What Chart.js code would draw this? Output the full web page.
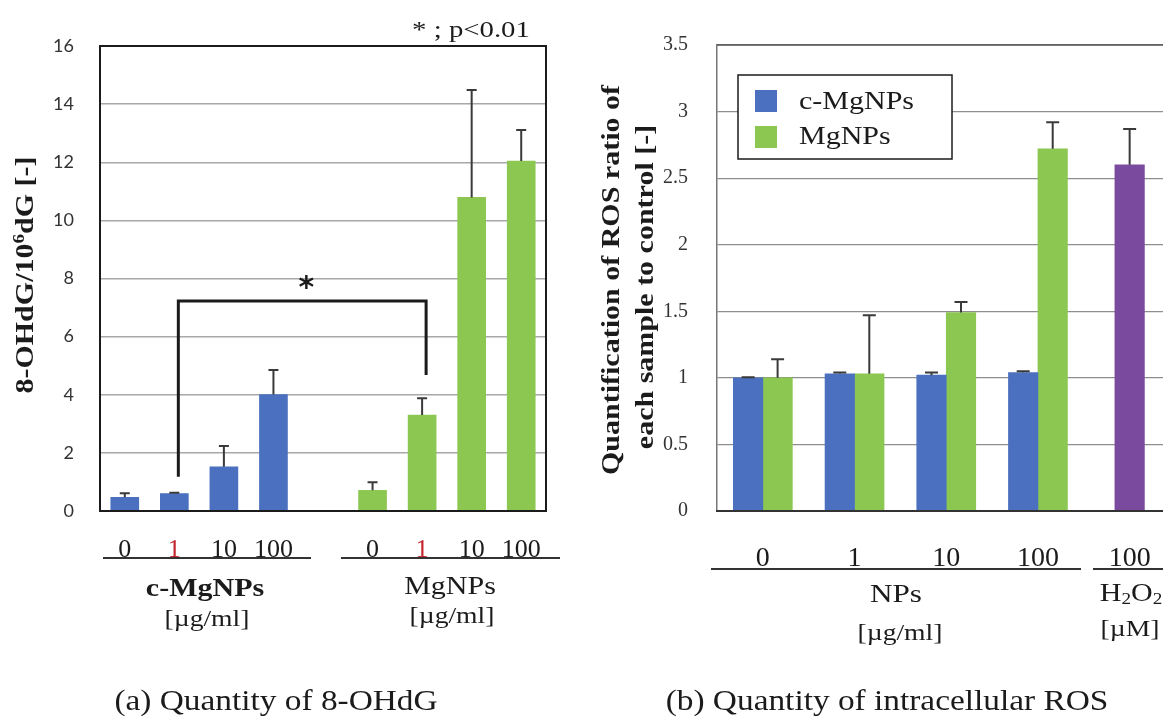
<!DOCTYPE html>
<html>
<head>
<meta charset="utf-8">
<title>8-OHdG and intracellular ROS</title>
<script src="https://cdn.jsdelivr.net/npm/chart.js@4.4.1/dist/chart.umd.min.js"></script>
<style>
  html, body { margin: 0; padding: 0; background: #fff; overflow: hidden; width: 1163px; height: 719px; }
  canvas { position: absolute; top: 0; }
  #ohdg { left: 0; }
  #ros { left: 580px; }
</style>
</head>
<body>
<canvas id="ohdg" width="580" height="719"></canvas>
<canvas id="ros" width="620" height="719"></canvas>
<script>
// (a) 8-OHdG: one slot per dose, an empty slot between the two particle types
const ohdgDoses = ['0', '1', '10', '100', '', '0', '1', '10', '100'];
const ohdgCMg   = [0.47, 0.60, 1.52, 4.01, null, null, null, null, null];
const ohdgCMgSd = [0.14, 0.03, 0.72, 0.84, null, null, null, null, null];
const ohdgMg    = [null, null, null, null, null, 0.71, 3.30, 10.79, 12.04];
const ohdgMgSd  = [null, null, null, null, null, 0.28, 0.58, 3.70, 1.07];
const ohdgTicks = [0, 16, 2];

// significance bracket: between dose slots 1 and 6, leg heights in 8-OHdG units
const sigPair = [1, 6];
const sigLegs = [1.18, 7.23, 4.68];

// (b) ROS ratio to control
const rosDoses  = ['0', '1', '10', '100', '100'];
const rosCMg    = [1.00, 1.03, 1.02, 1.04, null];
const rosCMgSd  = [0.005, 0.01, 0.02, 0.01, null];
const rosMg     = [1.00, 1.03, 1.49, 2.72, null];
const rosMgSd   = [0.14, 0.44, 0.08, 0.20, null];
const rosH2O2   = [null, null, null, null, 2.60];
const rosH2O2Sd = [null, null, null, null, 0.27];
const rosTicks  = [0, 3.5, 0.5];

const BLUE = '#4a70bf';
const GREEN = '#8cc751';
const PURPLE = '#7a4a9e';
const INK = '#1b1b1b';

Chart.defaults.font.family = '"Liberation Serif", serif';
Chart.defaults.color = INK;

// serif text, slightly widened, with optional sub/superscript runs
function drawText(ctx, parts, x, y, size, o = {}) {
  if (typeof parts === 'string') parts = [[parts, '']];
  const sx = o.sx ?? 1.2;
  const weight = o.bold ? 'bold ' : '';
  const fontFor = k => weight + (k ? Math.round(size * 0.62) : size) + 'px "Liberation Serif"';
  ctx.save();
  ctx.translate(x, y);
  if (o.rot) ctx.rotate(o.rot);
  ctx.scale(sx, 1);
  ctx.fillStyle = o.color || INK;
  ctx.textBaseline = 'middle';
  ctx.textAlign = 'left';
  let total = 0;
  const widths = parts.map(([s, k]) => {
    ctx.font = fontFor(k);
    const w = ctx.measureText(s).width;
    total += w;
    return w;
  });
  let cx = o.align === 'left' ? 0 : -total / 2;
  parts.forEach(([s, k], i) => {
    ctx.font = fontFor(k);
    const dy = k === 'sup' ? -size * 0.3 : k === 'sub' ? size * 0.25 : 0;
    ctx.fillText(s, cx, dy);
    cx += widths[i];
  });
  ctx.restore();
}

function hline(ctx, x1, x2, y, color, width) {
  ctx.save();
  ctx.strokeStyle = color;
  ctx.lineWidth = width;
  ctx.beginPath();
  ctx.moveTo(x1, y);
  ctx.lineTo(x2, y);
  ctx.stroke();
  ctx.restore();
}

// upper-only error bars, read from each dataset's sd array
const errorBars = {
  id: 'errorBars',
  afterDatasetsDraw(chart, args, opts) {
    const { ctx } = chart;
    const yScale = chart.scales.y;
    ctx.save();
    ctx.strokeStyle = opts.color;
    ctx.lineWidth = opts.width;
    chart.data.datasets.forEach((ds, i) => {
      const meta = chart.getDatasetMeta(i);
      ds.data.forEach((v, j) => {
        if (v == null || ds.sd[j] == null) return;
        const bar = meta.data[j];
        const top = yScale.getPixelForValue(v + ds.sd[j]);
        ctx.beginPath();
        ctx.moveTo(bar.x, bar.y);
        ctx.lineTo(bar.x, top);
        ctx.moveTo(bar.x - opts.cap / 2, top);
        ctx.lineTo(bar.x + opts.cap / 2, top);
        ctx.stroke();
      });
    });
    ctx.restore();
  }
};

const ohdgDecor = {
  id: 'ohdgDecor',
  afterDatasetsDraw(chart) {
    const { ctx, chartArea: a } = chart;
    const x = chart.scales.x, y = chart.scales.y;
    ctx.save();
    ctx.strokeStyle = INK;
    ctx.lineWidth = 2;
    ctx.strokeRect(a.left, a.top, a.right - a.left, a.bottom - a.top);

    // bracket between 1 µg/ml of both particle types
    const x1 = x.getPixelForValue(sigPair[0]) + 4;
    const x2 = x.getPixelForValue(sigPair[1]) + 4;
    ctx.lineWidth = 3;
    ctx.beginPath();
    ctx.moveTo(x1, y.getPixelForValue(sigLegs[0]));
    ctx.lineTo(x1, y.getPixelForValue(sigLegs[1]));
    ctx.lineTo(x2, y.getPixelForValue(sigLegs[1]));
    ctx.lineTo(x2, y.getPixelForValue(sigLegs[2]));
    ctx.stroke();
    ctx.font = 'bold 30px "DejaVu Sans"';
    ctx.fillStyle = INK;
    ctx.textAlign = 'center';
    ctx.textBaseline = 'middle';
    ctx.fillText('*', (x1 + x2) / 2 + 4, y.getPixelForValue(sigLegs[1]) - 12);
    ctx.restore();
  },
  afterDraw(chart) {
    const { ctx } = chart;
    drawText(ctx, '* ; p<0.01', 471, 31, 24);
    drawText(ctx, [['8-OHdG/10', ''], ['6', 'sup'], ['dG [-]', '']], 27, 275, 25, { bold: true, rot: -Math.PI / 2 });
    hline(ctx, 103, 311, 558, '#333', 2);
    hline(ctx, 341, 560, 558, '#333', 2);
    drawText(ctx, 'c-MgNPs', 205, 590, 25, { bold: true });
    drawText(ctx, '[\u00b5g/ml]', 207, 620, 23);
    drawText(ctx, 'MgNPs', 450, 587, 25);
    drawText(ctx, '[\u00b5g/ml]', 452, 617, 23);
    drawText(ctx, '(a) Quantity of 8-OHdG', 276, 702, 29, { sx: 1.15 });
  }
};

const rosDecor = {
  id: 'rosDecor',
  afterDatasetsDraw(chart) {
    const { ctx, chartArea: a } = chart;
    hline(ctx, a.left, a.right, a.top, '#555', 1.5);
    hline(ctx, a.left - 1, a.right, a.bottom, '#333', 2);

    // legend box
    ctx.save();
    ctx.fillStyle = '#fff';
    ctx.fillRect(158, 75, 214, 84);
    ctx.strokeStyle = INK;
    ctx.lineWidth = 1.5;
    ctx.strokeRect(158, 75, 214, 84);
    chart.data.datasets.slice(0, 2).forEach((ds, i) => {
      ctx.fillStyle = ds.backgroundColor;
      ctx.fillRect(175, 90 + i * 36, 22, 22);
      drawText(ctx, ds.label, 219, 102 + i * 35, 25, { align: 'left' });
    });
    ctx.restore();
  },
  afterDraw(chart) {
    const { ctx } = chart;
    drawText(ctx, 'Quantification of ROS ratio of', 33, 280, 25, { bold: true, rot: -Math.PI / 2 });
    drawText(ctx, 'each sample to control [-]', 67, 287, 25, { bold: true, rot: -Math.PI / 2 });
    hline(ctx, 131, 501, 569, '#333', 2);
    hline(ctx, 513, 620, 569, '#333', 2);
    drawText(ctx, 'NPs', 316, 595, 26);
    drawText(ctx, '[\u00b5g/ml]', 320, 634, 23);
    drawText(ctx, [['H', ''], ['2', 'sub'], ['O', ''], ['2', 'sub']], 551, 594, 25);
    drawText(ctx, '[\u00b5M]', 550, 630, 23);
    drawText(ctx, '(b) Quantity of intracellular ROS', 307, 702, 29, { sx: 1.15 });
  }
};

new Chart(document.getElementById('ohdg'), {
  type: 'bar',
  data: {
    labels: ohdgDoses,
    datasets: [
      { label: 'c-MgNPs', data: ohdgCMg, sd: ohdgCMgSd, backgroundColor: BLUE },
      { label: 'MgNPs', data: ohdgMg, sd: ohdgMgSd, backgroundColor: GREEN }
    ]
  },
  options: {
    responsive: false,
    animation: false,
    datasets: { bar: { skipNull: true, barThickness: 28 } },
    layout: { padding: { top: 46, right: 34, left: 0, bottom: 0 } },
    plugins: {
      legend: { display: false },
      tooltip: { enabled: false },
      errorBars: { color: '#3a3a3a', width: 2, cap: 10 }
    },
    scales: {
      x: {
        grid: { display: false },
        border: { display: false },
        ticks: {
          autoSkip: false, maxRotation: 0, padding: 16,
          font: { size: 26 },
          color: c => (c.index === 1 || c.index === 6) ? '#c4262e' : INK
        },
        afterFit: s => { s.height = 208; }
      },
      y: {
        min: ohdgTicks[0], max: ohdgTicks[1],
        ticks: { stepSize: ohdgTicks[2], padding: 26, font: { family: 'Lato', size: 18 }, color: '#333' },
        grid: { color: '#a8a8a8', lineWidth: 1.5, drawTicks: false },
        border: { display: false },
        afterFit: s => { s.width = 100; }
      }
    }
  },
  plugins: [errorBars, ohdgDecor]
});

new Chart(document.getElementById('ros'), {
  type: 'bar',
  data: {
    labels: rosDoses,
    datasets: [
      { label: 'c-MgNPs', data: rosCMg, sd: rosCMgSd, backgroundColor: BLUE },
      { label: 'MgNPs', data: rosMg, sd: rosMgSd, backgroundColor: GREEN },
      { label: 'H2O2', data: rosH2O2, sd: rosH2O2Sd, backgroundColor: PURPLE }
    ]
  },
  options: {
    responsive: false,
    animation: false,
    datasets: { bar: { skipNull: true, barThickness: 29.5 } },
    layout: { padding: { top: 45, right: 24.5, left: 0, bottom: 0 } },
    plugins: {
      legend: { display: false },
      tooltip: { enabled: false },
      errorBars: { color: '#3a3a3a', width: 2, cap: 13 }
    },
    scales: {
      x: {
        grid: { display: false },
        border: { display: false },
        ticks: { autoSkip: false, maxRotation: 0, padding: 23, font: { size: 28 }, color: INK },
        afterFit: s => { s.height = 208; }
      },
      y: {
        min: rosTicks[0], max: rosTicks[1],
        ticks: {
          stepSize: rosTicks[2], padding: 29, font: { size: 20 }, color: '#333',
          callback: v => String(+v.toFixed(1))
        },
        grid: { color: '#8e8e8e', lineWidth: 1.2, drawTicks: false },
        border: { display: true, color: '#777', width: 1.5 },
        afterFit: s => { s.width = 137; }
      }
    }
  },
  plugins: [errorBars, rosDecor]
});
</script>
</body>
</html>
